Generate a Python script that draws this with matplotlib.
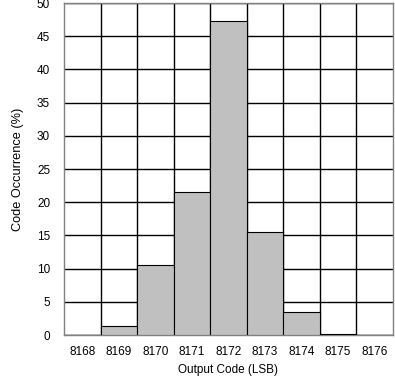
import matplotlib
matplotlib.use("Agg")
import matplotlib.pyplot as plt
import numpy as np

codes = [8168, 8169, 8170, 8171, 8172, 8173, 8174, 8175, 8176]
occurrence = [0.0, 1.3, 10.6, 21.5, 47.3, 15.5, 3.4, 0.2, 0.0]
yticks = [0, 5, 10, 15, 20, 25, 30, 35, 40, 45, 50]

plt.rcParams['font.family'] = ['Liberation Sans', 'DejaVu Sans']
fig = plt.figure(figsize=(3.95, 3.78), dpi=100)
ax = fig.add_axes([64/395, 43/378, 329/395, 332/378])

ax.bar(codes, occurrence, width=1.0, color='#c0c0c0', edgecolor='black', linewidth=0.8, zorder=3)

ax.set_xlim(codes[0] - 0.5, codes[-1] + 0.5)
ax.set_ylim(0, 50)
ax.set_xticks(codes)
ax.set_xticklabels([str(c) for c in codes])
ax.set_yticks(yticks)
ax.set_xticks(np.array(codes[:-1]) + 0.5, minor=True)
ax.grid(True, which='minor', axis='x', color='black', linewidth=1.0, zorder=1)
ax.grid(True, which='major', axis='y', color='black', linewidth=1.0, zorder=1)
ax.set_axisbelow(True)
ax.tick_params(which='both', length=0, labelsize=8.5, pad=8)
ax.tick_params(axis='y', pad=10)
for s in ax.spines.values():
    s.set_color('#808080')
    s.set_linewidth(1.0)

ax.set_xlabel('Output Code (LSB)', fontsize=8.5, labelpad=4)
ax.set_ylabel('Code Occurrence (%)', fontsize=9.2, labelpad=9)

fig.savefig('out.png', dpi=100)
